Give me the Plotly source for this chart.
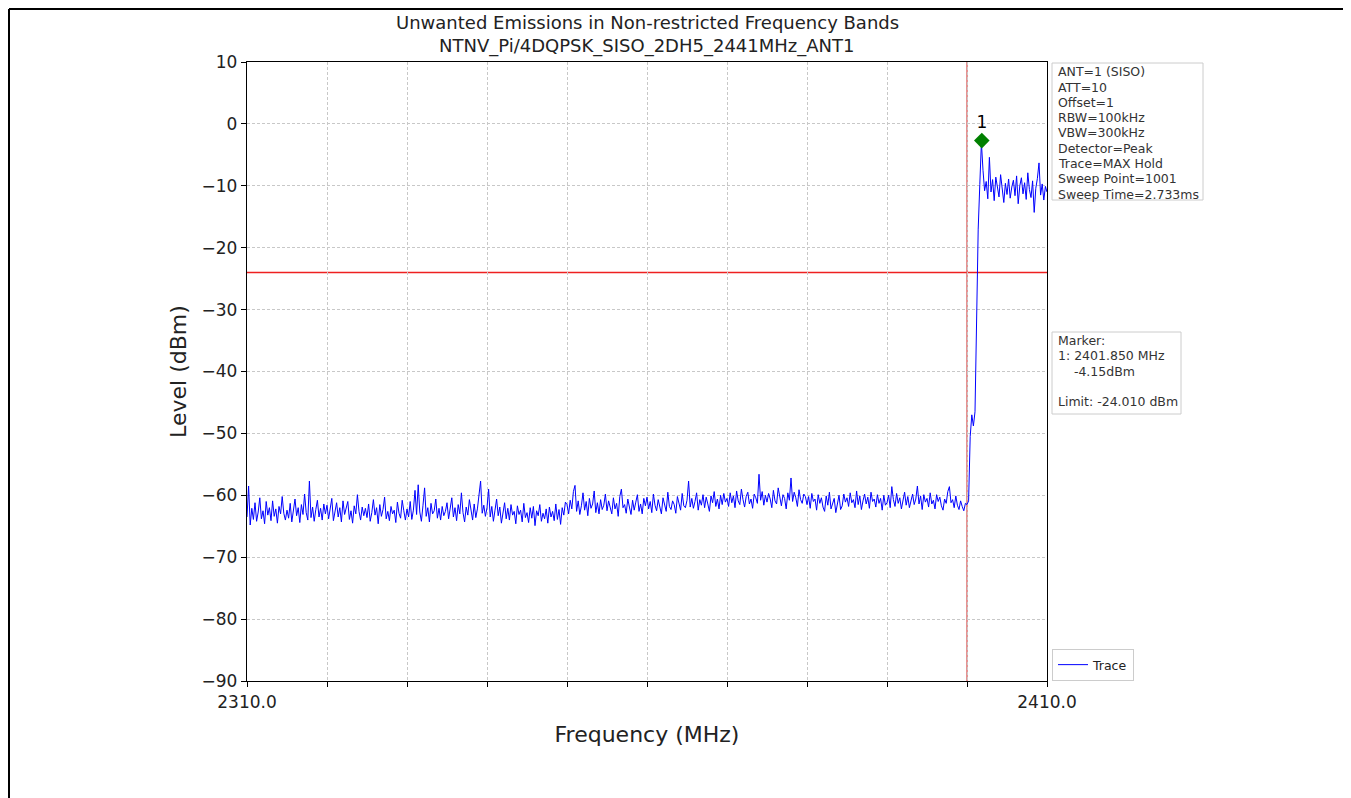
import numpy as np
import plotly.graph_objects as go

# ---------------- data ----------------
freq_start = 2310.0
freq_stop = 2410.0
n_points = 501

# 2310.0 .. 2399.8 MHz (0.2 MHz step), 25 values per row = 5 MHz
level_low = [
    -63.5, -58.5, -64.8, -62.1, -63.9, -61.2, -64.2, -62.7, -60.4, -63.8, -62.5, -64.6, -61.0, -63.2, -62.0, -64.1, -60.9, -63.4, -62.2, -64.5, -61.8, -63.0, -60.2, -62.9, -64.0,
    -62.4, -63.7, -61.3, -64.3, -62.6, -60.6, -63.3, -62.0, -64.4, -61.5, -63.1, -59.8, -62.8, -64.0, -57.7, -63.6, -61.9, -64.2, -62.3, -60.8, -63.5, -62.1, -64.0, -61.4, -63.0,
    -61.6, -63.8, -62.4, -60.5, -64.1, -62.7, -61.2, -63.5, -62.0, -64.3, -60.9, -63.1, -62.2, -61.0, -63.9, -62.5, -64.5, -61.7, -63.0, -59.9, -62.6, -64.0, -61.9, -63.3, -62.1,
    -63.6, -61.4, -64.2, -62.8, -60.7, -63.2, -62.0, -64.6, -61.5, -63.4, -62.3, -60.3, -63.8, -62.6, -64.1, -61.8, -63.0, -62.4, -64.4, -61.1, -62.9, -63.7, -60.8, -62.5, -64.0,
    -62.2, -63.5, -61.0, -63.9, -62.4, -59.2, -63.1, -58.3, -62.7, -64.2, -61.6, -58.8, -63.4, -62.0, -64.3, -61.3, -63.0, -62.5, -60.6, -63.7, -62.1, -64.0, -61.8, -63.3, -62.6,
    -61.2, -63.8, -62.3, -60.4, -63.5, -62.0, -64.1, -61.5, -63.0, -59.6, -62.8, -64.3, -61.9, -63.2, -60.7, -62.5, -64.0, -61.4, -63.6, -62.2, -60.1, -57.7, -62.9, -61.6, -63.4,
    -62.0, -59.0, -63.5, -61.8, -64.2, -62.4, -60.6, -63.3, -61.9, -64.5, -62.7, -61.2, -63.8, -62.1, -64.0, -61.5, -63.2, -62.6, -64.6, -61.7, -63.1, -62.4, -64.3, -61.3, -63.6,
    -62.8, -64.4, -62.0, -63.7, -61.8, -64.9, -62.5, -63.3, -61.5, -64.2, -62.9, -63.8, -62.2, -64.5, -61.9, -63.5, -62.6, -64.1, -61.4, -63.9, -62.3, -64.7, -62.0, -63.2, -61.1,
    -61.5, -63.0, -60.8, -62.2, -59.4, -58.4, -62.6, -60.9, -63.1, -61.7, -59.6, -62.4, -61.0, -63.3, -60.5, -62.1, -61.4, -59.3, -62.8, -61.2, -63.0, -60.7, -62.3, -61.6, -59.8,
    -62.5, -60.9, -61.8, -63.0, -60.4, -62.2, -61.3, -63.4, -60.2, -59.0, -62.0, -61.5, -62.9, -60.6, -61.9, -63.1, -60.8, -62.4, -61.1, -59.9, -62.6, -61.4, -63.0, -60.5, -61.7,
    -60.3, -62.2, -61.0, -62.8, -59.8, -61.6, -62.5, -60.7, -61.9, -63.0, -60.4, -61.3, -62.6, -59.5, -61.8, -62.3, -60.9, -61.5, -62.9, -60.2, -61.2, -62.4, -59.7, -61.7, -62.0,
    -60.8, -57.7, -61.9, -60.5, -62.1, -61.0, -59.6, -62.4, -60.7, -61.6, -59.9, -62.0, -60.3, -61.4, -62.6, -60.1, -61.2, -59.4, -61.8, -60.6, -62.2, -60.0, -61.5, -59.7, -61.1,
    -60.5, -61.8, -59.6, -61.2, -60.1, -62.0, -59.3, -60.9, -61.5, -59.0, -60.7, -61.9, -60.2, -59.5, -61.4, -60.6, -62.1, -59.8, -60.4, -61.3, -56.6, -60.8, -59.4, -61.6, -60.0,
    -61.1, -59.7, -60.6, -62.0, -59.2, -60.9, -61.4, -58.8, -60.3, -61.7, -59.9, -60.5, -62.2, -59.6, -60.8, -57.2, -61.0, -59.5, -60.4, -61.8, -59.1, -60.7, -61.3, -59.8, -60.2,
    -61.5, -60.2, -62.1, -59.7, -61.0, -60.6, -62.4, -59.9, -61.3, -60.4, -61.9, -62.6, -60.1, -61.6, -59.5, -62.2, -61.2, -60.5, -62.8, -61.4, -60.0, -62.3, -61.7, -59.8, -61.1,
    -60.4, -61.8, -59.6, -61.2, -60.7, -62.0, -59.3, -61.5, -60.1, -62.3, -60.9, -59.8, -61.4, -60.3, -62.1, -59.5, -61.0, -60.6, -61.9, -59.9, -61.3, -60.5, -62.4, -60.0, -61.6,
    -61.2, -60.0, -62.0, -58.6, -60.7, -61.8, -59.7, -61.3, -60.4, -62.2, -60.9, -59.5, -61.6, -60.2, -62.0, -61.0, -59.8, -61.5, -60.6, -58.5, -61.4, -60.1, -62.3, -59.9, -61.1,
    -60.5, -61.9, -59.6, -61.4, -60.8, -62.2, -59.9, -61.0, -60.3, -61.7, -62.4, -60.6, -61.3, -59.4, -58.6, -61.2, -60.7, -62.0, -60.1, -61.6, -62.3, -60.9, -61.8, -62.5, -61.3,
]
# 2400.0 .. 2401.8 MHz (band edge rise)
level_edge = [-61.5, -60.9, -50.5, -47.0, -48.8, -46.5, -31.0, -17.0, -9.8, -3.0]
# 2402.0 .. 2410.0 MHz (in-band)
level_high = [
    -7.5, -10.8, -9.3, -12.1, -5.4, -11.0, -9.0, -12.4, -8.6, -10.3,
    -11.8, -8.2, -10.9, -12.7, -9.6, -11.4, -8.9, -12.0, -10.2, -9.1,
    -11.6, -8.4, -12.9, -10.0, -8.7, -11.3, -9.5, -12.2, -7.9, -10.6,
    -11.9, -9.2, -14.3, -10.4, -8.8, -6.3, -11.5, -9.7, -12.3, -10.1,
    -11.0,
]

limit_level = -24.010
band_edge = 2400.0
marker_freq = 2401.85
marker_level = -2.7
marker_label = "1"

x_ticks = [2310, 2320, 2330, 2340, 2350, 2360, 2370, 2380, 2390, 2400, 2410]
x_ticktext = ["2310.0", "", "", "", "", "", "", "", "", "", "2410.0"]
y_ticks = [10, 0, -10, -20, -30, -40, -50, -60, -70, -80, -90]

title_lines = ["Unwanted Emissions in Non-restricted Frequency Bands",
               "NTNV_Pi/4DQPSK_SISO_2DH5_2441MHz_ANT1"]
settings_text = ["ANT=1 (SISO)", "ATT=10", "Offset=1", "RBW=100kHz", "VBW=300kHz",
                 "Detector=Peak", "Trace=MAX Hold", "Sweep Point=1001", "Sweep Time=2.733ms"]
marker_text = ["Marker:", "1: 2401.850 MHz", "\u00a0\u00a0\u00a0\u00a0-4.15dBm", "", "Limit: -24.010 dBm"]

freqs = np.linspace(freq_start, freq_stop, n_points)
levels = level_low + level_edge + level_high

FONT = "DejaVu Sans"
TXT = "#222222"

# plot area in window pixels (page body has an 8px margin)
PX_L, PX_R, PX_T, PX_B = 247, 1047, 62, 681
PW, PH = PX_R - PX_L, PX_B - PX_T


def px(xw):
    return (xw - PX_L) / PW


def py(yw):
    return (PX_B - yw) / PH


fig = go.Figure()
fig.add_trace(go.Scatter(x=freqs, y=levels, mode="lines", name="Trace",
                         line=dict(color="#0000ff", width=1)))
fig.add_trace(go.Scatter(x=[marker_freq], y=[marker_level], mode="markers+text",
                         text=[marker_label], textposition="top center",
                         textfont=dict(size=17, color="black", family=FONT),
                         marker=dict(symbol="diamond", size=12, color="#008000"),
                         showlegend=False, cliponaxis=False))

fig.add_hline(y=limit_level, line=dict(color="#ee2020", width=1.3), layer="below")
fig.add_vline(x=band_edge, line=dict(color="#d85858", width=1.3), layer="below")

fig.update_layout(
    width=1343, height=790,
    margin=dict(l=PX_L - 8, r=1351 - PX_R, t=PX_T - 8, b=798 - PX_B),
    paper_bgcolor="white", plot_bgcolor="white",
    font=dict(family=FONT, color=TXT),
    showlegend=True,
    legend=dict(x=px(1052), y=0.0, xanchor="left", yanchor="bottom",
                bordercolor="#cccccc", borderwidth=1, bgcolor="white",
                font=dict(size=12.5, family=FONT, color=TXT),
                itemwidth=30, tracegroupgap=0),
)

fig.update_xaxes(range=[freq_start, freq_stop], tickmode="array", tickvals=x_ticks, ticktext=x_ticktext,
                 ticks="outside", ticklen=5, tickcolor="black", tickwidth=1,
                 showline=True, linecolor="black", linewidth=1.3, mirror=True,
                 showgrid=True, gridcolor="#c8c8c8", gridwidth=0.8, griddash="3px,2px",
                 zeroline=False, tickfont=dict(size=17, family=FONT, color=TXT),
                 title=dict(text="Frequency (MHz)", font=dict(size=22, family=FONT, color=TXT), standoff=16))
fig.update_yaxes(range=[-90, 10], tickmode="array", tickvals=y_ticks,
                 ticks="outside", ticklen=5, tickcolor="black", tickwidth=1,
                 showline=True, linecolor="black", linewidth=1.3, mirror=True,
                 showgrid=True, gridcolor="#c8c8c8", gridwidth=0.8, griddash="3px,2px",
                 zeroline=False, tickfont=dict(size=17, family=FONT, color=TXT),
                 title=dict(text="Level (dBm)", font=dict(size=22, family=FONT, color=TXT), standoff=8))

# title (two lines)
for i, line in enumerate(title_lines):
    fig.add_annotation(xref="paper", yref="paper", x=0.5, y=py(22 + 24 * i), xanchor="center", yanchor="middle",
                       text=line, showarrow=False, font=dict(size=18, family=FONT, color=TXT))

# info boxes
fig.add_shape(type="rect", xref="paper", yref="paper", x0=px(1052), x1=px(1203), y0=py(200), y1=py(63),
              line=dict(color="#cccccc", width=1), fillcolor="white", layer="above")
for i, line in enumerate(settings_text):
    fig.add_annotation(xref="paper", yref="paper", x=px(1056), y=py(72 + 15.25 * i), xanchor="left", yanchor="middle",
                       text=line, showarrow=False, font=dict(size=12.5, family=FONT, color="#333333"))

fig.add_shape(type="rect", xref="paper", yref="paper", x0=px(1052), x1=px(1181), y0=py(414), y1=py(332),
              line=dict(color="#cccccc", width=1), fillcolor="white", layer="above")
for i, line in enumerate(marker_text):
    if line:
        fig.add_annotation(xref="paper", yref="paper", x=px(1056), y=py(340 + 15.5 * i), xanchor="left", yanchor="middle",
                           text=line, showarrow=False, font=dict(size=12.5, family=FONT, color="#333333"))

# outer image frame (left, top, right)
frame = dict(color="black", width=2)
fig.add_shape(type="line", xref="paper", yref="paper", x0=px(9), x1=px(9), y0=py(800), y1=py(9), line=frame)
fig.add_shape(type="line", xref="paper", yref="paper", x0=px(9), x1=px(1347), y0=py(9), y1=py(9), line=frame)
fig.add_shape(type="line", xref="paper", yref="paper", x0=px(1347), x1=px(1347), y0=py(800), y1=py(9), line=frame)

fig.write_html("out.html")
